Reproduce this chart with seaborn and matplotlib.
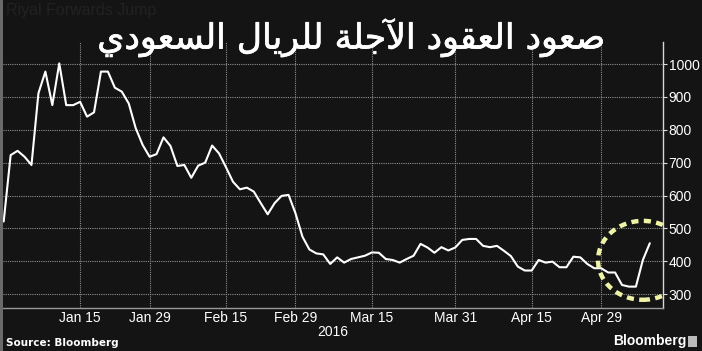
import numpy as np
import pandas as pd
import matplotlib
matplotlib.use("Agg")
import matplotlib.pyplot as plt
import matplotlib.patheffects as pe
import seaborn as sns
from matplotlib.patches import Ellipse, Rectangle

# ---------------- data ----------------
start_date = "2015-12-31"
values = [521, 723, 736, 718, 693, 911, 977, 875, 1002, 875,
          875, 885, 840, 853, 977, 977, 928, 916, 880, 805,
          754, 718, 726, 777, 751, 690, 693, 654, 691, 700,
          752, 728, 686, 642, 619, 624, 612, 577, 543, 577,
          599, 602, 546, 475, 436, 424, 421, 392, 412, 396,
          407, 412, 417, 427, 426, 407, 404, 396, 407, 417,
          453, 442, 426, 443, 433, 442, 465, 468, 468, 447,
          443, 447, 432, 416, 384, 372, 372, 404, 396, 399,
          382, 382, 414, 412, 392, 379, 379, 366, 366, 328,
          323, 323, 404, 455]
tick_dates = ["2016-01-15", "2016-01-29", "2016-02-15", "2016-02-29",
              "2016-03-15", "2016-03-31", "2016-04-15", "2016-04-29"]
tick_labels = ["Jan 15", "Jan 29", "Feb 15", "Feb 29",
               "Mar 15", "Mar 31", "Apr 15", "Apr 29"]
y_ticks = [300, 400, 500, 600, 700, 800, 900, 1000]
year_label = "2016"
title_ar = "صعود العقود الآجلة للريال السعودي"
ghost_title = "Riyal Forwards Jump"
source_text = "Source: Bloomberg"
brand_text = "Bloomberg"

dates = pd.bdate_range(start_date, periods=len(values))
df = pd.DataFrame({"idx": np.arange(len(values)), "value": values, "date": dates})
tick_pos = [int(np.where(dates == pd.Timestamp(d))[0][0]) for d in tick_dates]

# ---------------- simple Arabic shaping (presentation forms, visual order) ----
FORMS = {
    '\u0627': ('\uFE8D', '\uFE8E', None, None),
    '\u0622': ('\uFE81', '\uFE82', None, None),
    '\u062C': ('\uFE9D', '\uFE9E', '\uFE9F', '\uFEA0'),
    '\u062F': ('\uFEA9', '\uFEAA', None, None),
    '\u0631': ('\uFEAD', '\uFEAE', None, None),
    '\u0633': ('\uFEB1', '\uFEB2', '\uFEB3', '\uFEB4'),
    '\u0635': ('\uFEB9', '\uFEBA', '\uFEBB', '\uFEBC'),
    '\u0639': ('\uFEC9', '\uFECA', '\uFECB', '\uFECC'),
    '\u0642': ('\uFED5', '\uFED6', '\uFED7', '\uFED8'),
    '\u0644': ('\uFEDD', '\uFEDE', '\uFEDF', '\uFEE0'),
    '\u0629': ('\uFE93', '\uFE94', None, None),
    '\u0648': ('\uFEED', '\uFEEE', None, None),
    '\u064A': ('\uFEF1', '\uFEF2', '\uFEF3', '\uFEF4'),
}
LAM_ALEF = {'\u0627': ('\uFEFB', '\uFEFC'), '\u0622': ('\uFEF5', '\uFEF6')}


def shape_word(word):
    toks = []
    i = 0
    while i < len(word):
        c = word[i]
        if c == '\u0644' and i + 1 < len(word) and word[i + 1] in LAM_ALEF:
            f = LAM_ALEF[word[i + 1]]
            toks.append((f[0], f[1], None, None))
            i += 2
        else:
            toks.append(FORMS.get(c, (c, c, None, None)))
            i += 1
    out = []
    for k, t in enumerate(toks):
        prev = k > 0 and toks[k - 1][2] is not None
        nxt = t[2] is not None and k + 1 < len(toks)
        if prev and nxt:
            out.append(t[3])
        elif prev:
            out.append(t[1])
        elif nxt:
            out.append(t[2])
        else:
            out.append(t[0])
    return "".join(out)


def shape(text):
    return " ".join(shape_word(w) for w in text.split(" "))[::-1]


# ---------------- figure ----------------
BG = "#141414"
sns.set_theme(style="dark")
plt.rcParams["font.family"] = ["Liberation Sans", "DejaVu Sans"]

fig = plt.figure(figsize=(7.02, 3.51), dpi=100, facecolor=BG)
ax = fig.add_axes([3 / 702, 1 - 308 / 351, 660 / 702, 266 / 351])
ax.set_facecolor(BG)

sns.lineplot(data=df, x="idx", y="value", ax=ax, color="white", linewidth=1.5)

ax.set_xlim(-0.1, 94.9)
ax.set_ylim(258, 1067)

# grid
ax.set_xticks(tick_pos)
ax.set_xticklabels(tick_labels)
mids = [(a + b) / 2 for a, b in zip(tick_pos[:-1], tick_pos[1:])]
minor = [tick_pos[0] - 5.5] + mids + [tick_pos[-1] + 5.5]
ax.set_xticks(minor, minor=True)
ax.set_yticks(y_ticks)
ax.yaxis.tick_right()
ax.grid(True, which="major", color="#8f8f8f", linestyle=(0, (1, 1)), linewidth=0.8)
ax.grid(False, which="minor")

ax.tick_params(axis="x", which="major", length=0, colors="white", labelsize=10, pad=2)
ax.tick_params(axis="x", which="minor", length=4, width=0.8, color="#aaaaaa", direction="out")
ax.tick_params(axis="y", which="major", length=3, width=0.8, color="#dddddd",
               labelcolor="white", labelsize=10, pad=1, direction="out")

ax.set_xlabel(year_label, color="white", fontsize=10, labelpad=0)
ax.set_ylabel("")

for s in ["top", "left"]:
    ax.spines[s].set_visible(False)
ax.spines["right"].set_color("#d8d8d8")
ax.spines["right"].set_linewidth(1.0)
ax.spines["bottom"].set_color("#9a9a9a")
ax.spines["bottom"].set_linewidth(1.0)

# highlight ellipse
ell = Ellipse((92.0, 403), width=12.9, height=240, fill=False,
              edgecolor="#eef3a6", linewidth=3.2, linestyle=(0, (1.6, 1.2)), zorder=5)
ax.add_patch(ell)

# texts
fig.text(6 / 702, 1 - 10 / 351, ghost_title, fontsize=11.5, color="#222222",
         ha="left", va="center")
fig.text(351 / 702, 1 - 38 / 351, shape(title_ar), fontsize=25, color="white",
         ha="center", va="center", family="DejaVu Sans",
         path_effects=[pe.withStroke(linewidth=0.5, foreground="white")])
fig.text(6 / 702, 1 - 343 / 351, source_text, fontsize=7.5, color="white",
         weight="bold", ha="left", va="center", family="DejaVu Sans")
fig.text(686 / 702, 1 - 341 / 351, brand_text, fontsize=10, color="white",
         weight="bold", ha="right", va="center")
fig.patches.append(Rectangle((688 / 702, 1 - 347 / 351), 9 / 702, 11 / 351,
                             transform=fig.transFigure, facecolor="#bbbbbb",
                             edgecolor="none"))
# left border strip
fig.patches.append(Rectangle((0, 0), 3 / 702, 1, transform=fig.transFigure,
                             facecolor="#6a6a6a", edgecolor="none"))

fig.savefig("out.png", dpi=100, facecolor=BG)
